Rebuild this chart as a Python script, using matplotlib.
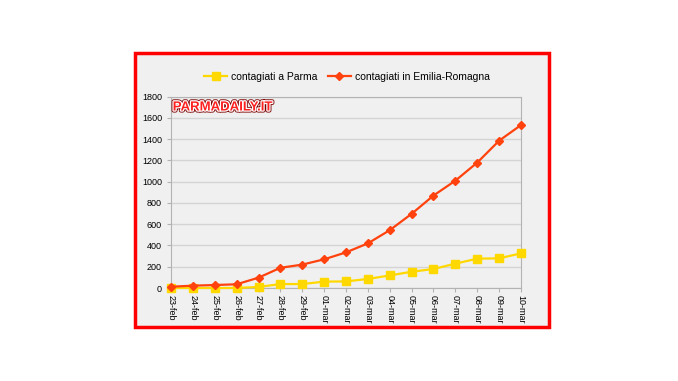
import matplotlib.pyplot as plt
import matplotlib.patheffects as pe
from matplotlib.patches import Rectangle

plt.rcParams['font.family'] = ['Liberation Sans', 'DejaVu Sans']

days = ["23-feb", "24-feb", "25-feb", "26-feb", "27-feb", "28-feb", "29-feb",
        "01-mar", "02-mar", "03-mar", "04-mar", "05-mar", "06-mar", "07-mar",
        "08-mar", "09-mar", "10-mar"]
parma = [0, 0, 0, 0, 10, 37, 37, 60, 62, 85, 118, 153, 179, 229, 276, 279, 326]
emilia = [12, 22, 28, 35, 97, 190, 220, 270, 335, 420, 544, 698, 870, 1010,
          1180, 1386, 1533]

fig = plt.figure(figsize=(6.78, 3.81), dpi=100)
fig.patch.set_facecolor('white')

# red frame with light gray panel
fig.patches.append(Rectangle((135 / 678, 1 - 327 / 381), 414 / 678, 274 / 381,
                             transform=fig.transFigure, facecolor='#f0f0f0',
                             edgecolor='#ff0000', linewidth=2.5, zorder=-10))

ax = fig.add_axes([171 / 678, 1 - 288 / 381, 350 / 678, 191.3 / 381])
ax.set_facecolor('none')

x = list(range(len(days)))
ax.plot(x, parma, color='#ffd800', marker='s', markersize=5.2, linewidth=1.6,
        label='contagiati a Parma', clip_on=False, zorder=3)
ax.plot(x, emilia, color='#ff420e', marker='D', markersize=4, linewidth=1.6,
        label='contagiati in Emilia-Romagna', clip_on=False, zorder=4)

ax.set_xlim(0, len(days) - 1)
ax.set_ylim(0, 1800)
ax.set_yticks(range(0, 1801, 200))
ax.set_xticks(x)
ax.set_xticklabels(days, rotation=270, fontsize=6.5)
ax.tick_params(axis='y', labelsize=6.5, length=3, color='#b3b3b3')
ax.tick_params(axis='x', length=3, color='#b3b3b3', pad=2)
ax.grid(axis='y', color='#d4d4d4', linewidth=1)
ax.set_axisbelow(True)
for s in ax.spines.values():
    s.set_color('#b3b3b3')

fig.legend(loc='center', bbox_to_anchor=(347 / 678, 1 - 77 / 381), ncol=2,
           frameon=False, fontsize=7.5, handlelength=2.2, columnspacing=1.0,
           handletextpad=0.4)

ax.text(0.005, 0.975, 'PARMADAILY.IT', transform=ax.transAxes, ha='left',
        va='top', fontsize=9.5, fontweight='bold', color='#ff2020',
        path_effects=[pe.Stroke(linewidth=3, foreground='#7a0000'),
                      pe.Stroke(linewidth=1.8, foreground='white'),
                      pe.Normal()])

fig.savefig('out.png', dpi=100)
